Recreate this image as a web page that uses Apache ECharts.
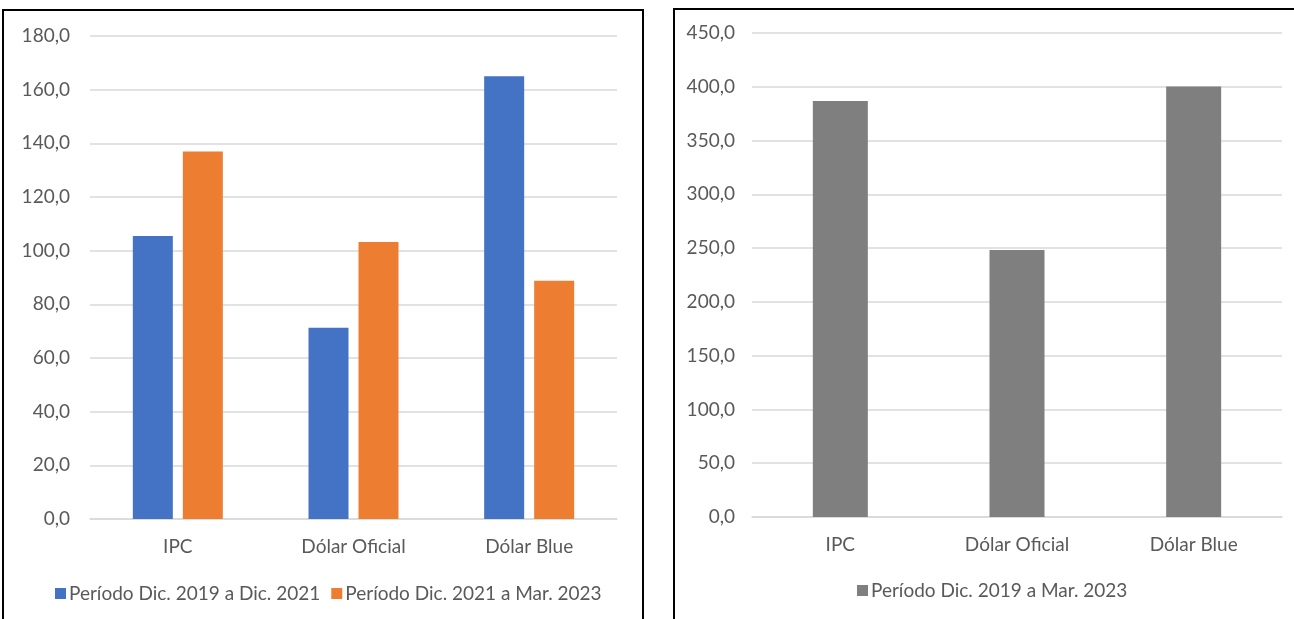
<!DOCTYPE html>
<html>
<head>
<meta charset="utf-8">
<script src="https://cdn.jsdelivr.net/npm/echarts@6/dist/echarts.min.js"></script>
<style>
  html, body { margin: 0; padding: 0; background: #fff; }
  #chart { width: 1294px; height: 619px; }
</style>
</head>
<body>
<div id="chart"></div>
<script>
// Categories shared by both panels
const categories = ['IPC', 'Dólar Oficial', 'Dólar Blue'];

// Left panel: variation by sub-period (%)
const seriesNames = ['Período Dic. 2019 a Dic. 2021', 'Período Dic. 2021 a Mar. 2023'];
const period1 = [105.5, 71.3, 165.0];
const period2 = [137.0, 103.2, 88.8];

// Right panel: accumulated variation (%)
const totalName = 'Período Dic. 2019 a Mar. 2023';
const totalValues = [386.8, 248.3, 400.3];

const fmt = v => v.toFixed(1).replace('.', ',');
const FONT = 'Lato';
const FS = 19;
const TXT = '#595959';
const GRID_LINE = '#d9d9d9';

function valueAxis(gridIndex, max, interval, margin) {
  return {
    type: 'value', gridIndex, min: 0, max, interval,
    axisLabel: { formatter: fmt, color: TXT, fontFamily: FONT, fontSize: FS, margin },
    splitLine: { lineStyle: { color: GRID_LINE, width: 1.5 } },
    axisLine: { show: false }, axisTick: { show: false }
  };
}
function categoryAxis(gridIndex) {
  return {
    type: 'category', gridIndex, data: categories,
    axisLabel: { color: TXT, fontFamily: FONT, fontSize: FS, margin: 18 },
    axisLine: { lineStyle: { color: GRID_LINE, width: 1.5 } },
    axisTick: { show: false }
  };
}

const chart = echarts.init(document.getElementById('chart'));
chart.setOption({
  animation: false,
  grid: [
    { left: 90, right: 677, top: 36, bottom: 100 },
    { left: 752, right: 12, top: 33, bottom: 102 }
  ],
  xAxis: [categoryAxis(0), categoryAxis(1)],
  yAxis: [valueAxis(0, 180, 20, 20), valueAxis(1, 450, 50, 17)],
  legend: [
    {
      data: seriesNames, left: 50, top: 579, itemWidth: 11, itemHeight: 11, itemGap: 11,
      icon: 'rect', textStyle: { color: TXT, fontFamily: FONT, fontSize: FS, padding: [0, 0, 0, -2] }
    },
    {
      data: [totalName], left: 852, top: 576, itemWidth: 11, itemHeight: 11,
      icon: 'rect', textStyle: { color: TXT, fontFamily: FONT, fontSize: FS, padding: [0, 0, 0, -2] }
    }
  ],
  series: [
    { name: seriesNames[0], type: 'bar', xAxisIndex: 0, yAxisIndex: 0, data: period1,
      barWidth: 40, barGap: '25%', itemStyle: { color: '#4472c4' } },
    { name: seriesNames[1], type: 'bar', xAxisIndex: 0, yAxisIndex: 0, data: period2,
      barWidth: 40, barGap: '25%', itemStyle: { color: '#ed7d31' } },
    { name: totalName, type: 'bar', xAxisIndex: 1, yAxisIndex: 1, data: totalValues,
      barWidth: 55, itemStyle: { color: '#7f7f7f' } }
  ],
  graphic: [
    { type: 'rect', shape: { x: 3, y: 10, width: 640, height: 640 },
      style: { fill: null, stroke: '#000', lineWidth: 2 }, silent: true },
    { type: 'rect', shape: { x: 674, y: 9, width: 640, height: 640 },
      style: { fill: null, stroke: '#000', lineWidth: 2 }, silent: true }
  ]
});
</script>
</body>
</html>
